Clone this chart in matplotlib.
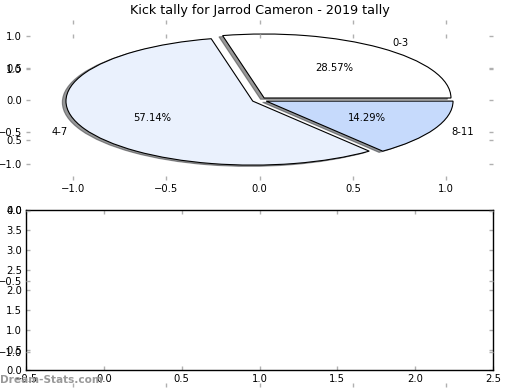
import matplotlib
matplotlib.use("Agg")
import matplotlib.pyplot as plt

title = "Kick tally for Jarrod Cameron - 2019 tally"
labels = ["0-3", "4-7", "8-11"]
counts = [2, 4, 1]
colors = ["#ffffff", "#eaf1fd", "#c6dafc"]
explode = [0.04, 0.04, 0.04]

pie_ticks = [-1.0, -0.5, 0.0, 0.5, 1.0]
bar_xticks = [-0.5, 0.0, 0.5, 1.0, 1.5, 2.0, 2.5]
bar_yticks = [0.0, 0.5, 1.0, 1.5, 2.0, 2.5, 3.0, 3.5, 4.0]

W, H = 520, 390
fig = plt.figure(figsize=(W / 100, H / 100), dpi=100)
fig.patch.set_facecolor("white")

FS = 7.2
TICKC = "#b0b0b0"

def style(ax):
    ax.tick_params(which="both", direction="in", length=3, width=1, color=TICKC,
                   labelsize=FS, labelcolor="black", pad=3,
                   top=True, right=True, bottom=True, left=True)

def fr(x0, y0, x1, y1):
    return [x0 / W, 1 - y1 / H, (x1 - x0) / W, (y1 - y0) / H]

# pie axes (top)
ax1 = fig.add_axes(fr(26, 20, 493, 180))
ax1.pie(counts, labels=labels, colors=colors, explode=explode, autopct="%.2f%%",
        shadow=dict(ox=-0.014, oy=-0.014, shade=0.8),
        wedgeprops=dict(edgecolor="black", linewidth=0.8),
        textprops=dict(fontsize=FS), frame=True)
ax1.set_aspect("auto")
ax1.set_xlim(-1.25, 1.25)
ax1.set_ylim(-1.25, 1.25)
ax1.set_xticks(pie_ticks)
ax1.set_yticks(pie_ticks)
for s in ax1.spines.values():
    s.set_visible(False)
ax1.patch.set_visible(False)
style(ax1)
ax1.set_title(title, fontsize=9.2, pad=4)

# empty bottom axes
ax2 = fig.add_axes(fr(26, 210, 493, 370))
ax2.set_xlim(-0.5, 2.5)
ax2.set_ylim(0, 4)
ax2.set_xticks(bar_xticks)
ax2.set_yticks(bar_yticks)
for s in ax2.spines.values():
    s.set_color("black")
    s.set_linewidth(1)
ax2.patch.set_visible(False)
style(ax2)

# leftover frameless axes spanning the figure
ax3 = fig.add_axes(fr(26, 34, 493, 387))
ax3.set_xlim(-1.25, 1.25)
ax3.set_ylim(-1.25, 1.25)
ax3.set_xticks(pie_ticks)
ax3.set_yticks(pie_ticks)
for s in ax3.spines.values():
    s.set_visible(False)
ax3.patch.set_visible(False)
style(ax3)

fig.text(0.0, 1 - 380 / H, "Dream-Stats.com", fontsize=7.6, color="#999999",
         ha="left", va="center", fontweight="bold")

fig.savefig("out.png", dpi=100)
